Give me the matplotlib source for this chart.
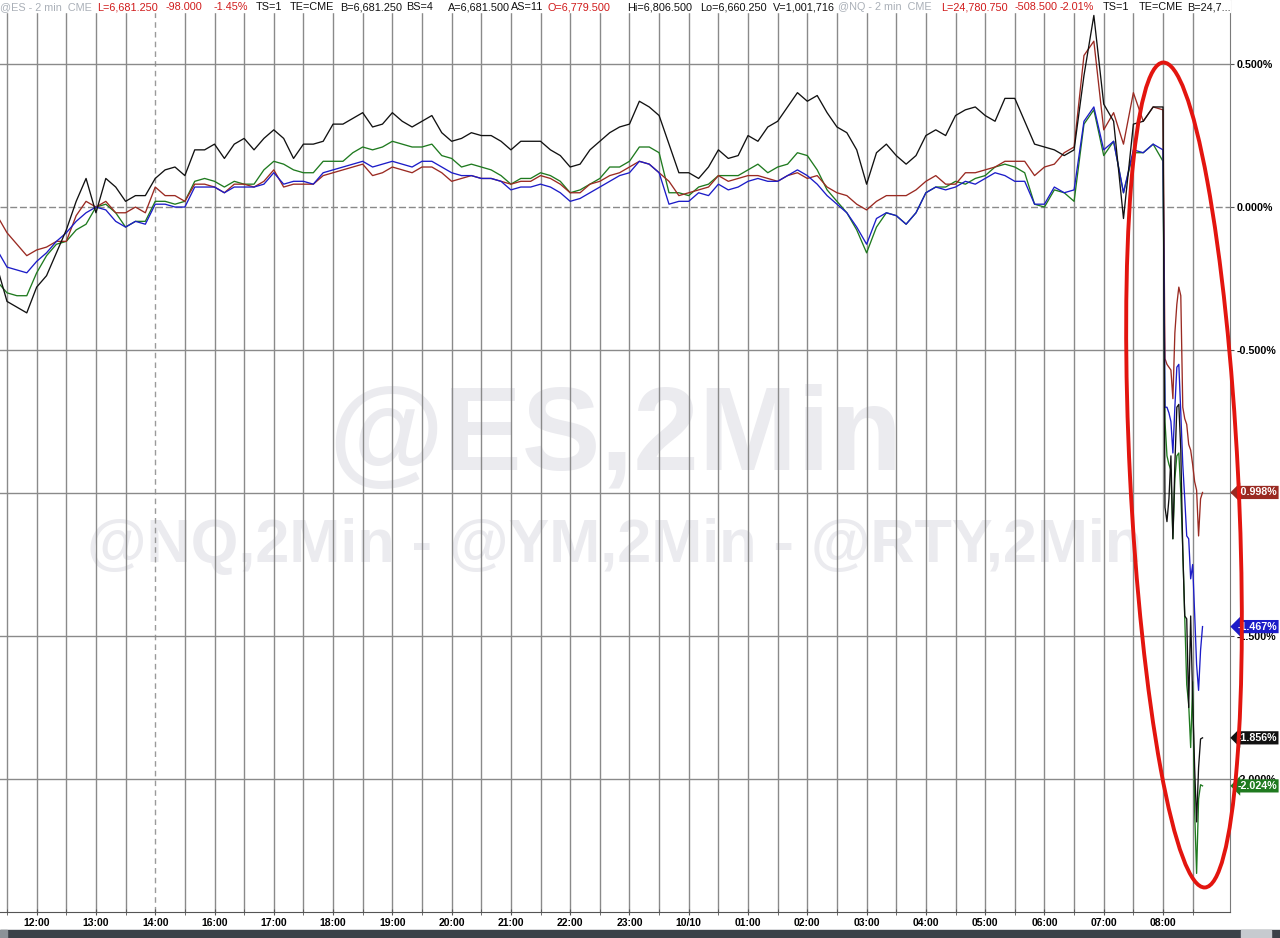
import numpy as np
import matplotlib
matplotlib.use("Agg")
import matplotlib.pyplot as plt
from matplotlib.patches import Ellipse, Rectangle
from matplotlib.transforms import IdentityTransform

plt.rcParams['font.family'] = ['Liberation Sans', 'DejaVu Sans']

# x = chart minutes counted from 12:00 (15:00 is not on the axis, 14:00 -> 16:00 is one slot)
calm_t = np.arange(-40, 1141, 10)
crash_t = np.arange(1142, 1181, 2)
t = np.concatenate([calm_t, crash_t])

hour_labels = ['12:00', '13:00', '14:00', '16:00', '17:00', '18:00', '19:00', '20:00',
               '21:00', '22:00', '23:00', '10/10', '01:00', '02:00', '03:00', '04:00',
               '05:00', '06:00', '07:00', '08:00']

# % change
black = [-0.21, -0.33, -0.35, -0.37, -0.28, -0.24, -0.16, -0.08, 0.02, 0.10,
         -0.02, 0.10, 0.07, 0.02, 0.04, 0.04, 0.10, 0.13, 0.14, 0.11,
         0.20, 0.20, 0.22, 0.17, 0.22, 0.24, 0.20, 0.24, 0.27, 0.24,
         0.17, 0.22, 0.22, 0.23, 0.29, 0.29, 0.31, 0.33, 0.28, 0.29,
         0.33, 0.30, 0.28, 0.30, 0.32, 0.26, 0.23, 0.24, 0.26, 0.25,
         0.25, 0.23, 0.20, 0.23, 0.23, 0.23, 0.20, 0.18, 0.14, 0.15,
         0.20, 0.23, 0.26, 0.28, 0.29, 0.37, 0.35, 0.32, 0.22, 0.12,
         0.12, 0.10, 0.14, 0.20, 0.17, 0.18, 0.25, 0.23, 0.28, 0.30,
         0.35, 0.40, 0.37, 0.39, 0.33, 0.28, 0.26, 0.20, 0.08, 0.19,
         0.22, 0.18, 0.15, 0.18, 0.25, 0.27, 0.25, 0.32, 0.34, 0.35,
         0.32, 0.30, 0.38, 0.38, 0.30, 0.22, 0.21, 0.20, 0.18, 0.20,
         0.46, 0.67, 0.36, 0.30, -0.04, 0.29, 0.30, 0.35, 0.35,
         -1.05, -1.10, -1.02, -0.87, -1.16, -0.90, -0.70, -0.69, -0.85, -1.20,
         -1.43, -1.44, -1.75, -1.43, -1.72, -1.96, -2.15, -1.96, -1.86, -1.856]

maroon = [-0.03, -0.09, -0.13, -0.17, -0.15, -0.14, -0.12, -0.12, -0.03, 0.02,
          0.00, 0.02, -0.02, -0.02, 0.00, -0.02, 0.07, 0.04, 0.04, 0.02,
          0.08, 0.08, 0.07, 0.05, 0.08, 0.08, 0.07, 0.09, 0.13, 0.07,
          0.08, 0.08, 0.08, 0.11, 0.12, 0.13, 0.14, 0.15, 0.11, 0.12,
          0.14, 0.13, 0.12, 0.14, 0.14, 0.12, 0.09, 0.10, 0.11, 0.10,
          0.10, 0.09, 0.08, 0.09, 0.09, 0.11, 0.10, 0.08, 0.05, 0.05,
          0.08, 0.09, 0.11, 0.12, 0.14, 0.16, 0.15, 0.12, 0.09, 0.04,
          0.05, 0.06, 0.07, 0.11, 0.09, 0.10, 0.11, 0.11, 0.10, 0.09,
          0.11, 0.12, 0.10, 0.11, 0.07, 0.05, 0.04, 0.01, -0.01, 0.02,
          0.04, 0.04, 0.04, 0.06, 0.09, 0.11, 0.08, 0.08, 0.12, 0.12,
          0.13, 0.14, 0.16, 0.16, 0.16, 0.11, 0.14, 0.15, 0.19, 0.21,
          0.53, 0.58, 0.27, 0.33, 0.22, 0.40, 0.30, 0.35, 0.34,
          -0.53, -0.55, -0.56, -0.57, -0.67, -0.44, -0.34, -0.28, -0.31, -0.70,
          -0.74, -0.76, -0.83, -0.85, -0.90, -0.96, -0.99, -1.15, -1.02, -0.998]

blue = [-0.15, -0.21, -0.22, -0.23, -0.19, -0.16, -0.12, -0.09, -0.05, -0.02,
        0.00, -0.01, -0.05, -0.07, -0.05, -0.06, 0.01, 0.01, 0.00, 0.00,
        0.07, 0.07, 0.07, 0.05, 0.07, 0.07, 0.07, 0.08, 0.12, 0.08,
        0.09, 0.09, 0.08, 0.12, 0.13, 0.14, 0.15, 0.16, 0.14, 0.15,
        0.16, 0.15, 0.14, 0.16, 0.16, 0.14, 0.12, 0.11, 0.11, 0.10,
        0.10, 0.09, 0.06, 0.07, 0.07, 0.08, 0.07, 0.05, 0.02, 0.03,
        0.05, 0.07, 0.09, 0.11, 0.12, 0.16, 0.15, 0.12, 0.01, 0.02,
        0.02, 0.05, 0.04, 0.08, 0.06, 0.07, 0.09, 0.10, 0.09, 0.09,
        0.11, 0.13, 0.11, 0.08, 0.04, 0.01, -0.02, -0.07, -0.13, -0.04,
        -0.02, -0.03, -0.06, -0.02, 0.05, 0.07, 0.06, 0.07, 0.09, 0.08,
        0.10, 0.12, 0.11, 0.09, 0.09, 0.01, 0.01, 0.07, 0.05, 0.06,
        0.30, 0.35, 0.20, 0.23, 0.05, 0.20, 0.19, 0.22, 0.20,
        -0.70, -0.70, -0.72, -0.75, -0.86, -0.70, -0.56, -0.55, -0.72, -0.90,
        -1.02, -1.15, -1.16, -1.30, -1.25, -1.42, -1.60, -1.69, -1.55, -1.467]

green = [-0.26, -0.30, -0.31, -0.31, -0.23, -0.17, -0.13, -0.12, -0.08, -0.06,
         0.00, 0.01, -0.02, -0.07, -0.05, -0.05, 0.02, 0.02, 0.01, 0.02,
         0.09, 0.10, 0.09, 0.07, 0.09, 0.08, 0.08, 0.13, 0.16, 0.15,
         0.13, 0.12, 0.12, 0.16, 0.16, 0.16, 0.19, 0.21, 0.20, 0.21,
         0.23, 0.22, 0.21, 0.21, 0.22, 0.18, 0.17, 0.14, 0.15, 0.14,
         0.13, 0.11, 0.08, 0.10, 0.10, 0.12, 0.11, 0.09, 0.05, 0.06,
         0.08, 0.10, 0.14, 0.14, 0.16, 0.21, 0.21, 0.19, 0.05, 0.05,
         0.04, 0.07, 0.08, 0.11, 0.11, 0.11, 0.13, 0.15, 0.12, 0.14,
         0.15, 0.19, 0.18, 0.13, 0.06, 0.02, -0.02, -0.08, -0.16, -0.07,
         -0.02, -0.03, -0.06, -0.02, 0.05, 0.07, 0.07, 0.09, 0.08, 0.10,
         0.11, 0.14, 0.15, 0.14, 0.12, 0.01, 0.00, 0.06, 0.05, 0.02,
         0.29, 0.34, 0.18, 0.23, 0.05, 0.19, 0.19, 0.22, 0.16,
         -0.75, -0.87, -0.90, -0.92, -1.16, -0.95, -0.87, -0.86, -1.00, -1.20,
         -1.43, -1.67, -1.74, -1.89, -1.66, -2.11, -2.33, -2.07, -2.02, -2.024]

series = [(green, '#1f7a1f'), (maroon, '#9a2a22'), (blue, '#1c1cc8'), (black, '#111111')]
yticks = [0.5, 0.0, -0.5, -1.0, -1.5, -2.0]

W, H = 1280, 938
fig = plt.figure(figsize=(W / 100, H / 100), dpi=100)
ax = fig.add_axes([0, 26 / H, 1230 / W, 912 / H])
ax.set_xlim(-37.1, 1207.8)
ax.set_ylim(-2.465, 0.724)

# grid: every half hour, dashed at the session break
grid_c = '#8a8a8a'
for g in np.arange(-30, 1171, 30):
    if g == 120:
        ax.axvline(g, color='#9a9a9a', lw=1.0, ls=(0, (4, 3)), zorder=1)
    else:
        ax.axvline(g, color=grid_c, lw=1.0, zorder=1)
for yv in yticks:
    ax.axhline(yv, color=grid_c, lw=1.0, ls=(0, (5, 2)) if yv == 0 else '-', zorder=1)

for vals, c in series:
    ax.plot(t, vals, color=c, lw=0.95, zorder=3)

# watermarks
wm = '#ebebef'
ax.text(615 / W, 1 - 470 / H, '@ES,2Min', transform=fig.transFigure, ha='center',
        va='baseline', fontsize=85, fontweight='bold', color=wm, zorder=0.5)
ax.text(615 / W, 1 - 562 / H, '@NQ,2Min - @YM,2Min - @RTY,2Min', transform=fig.transFigure,
        ha='center', va='baseline', fontsize=44, fontweight='bold', color=wm, zorder=0.5)

# axes
for s in ['left', 'top']:
    ax.spines[s].set_visible(False)
ax.spines['right'].set_color('#7a7a7a')
ax.spines['bottom'].set_color('#555555')
ax.set_xticks(np.arange(0, 1141, 60))
ax.set_xticklabels(hour_labels)
ax.set_xticks(np.arange(-30, 1171, 60), minor=True)
ax.tick_params(axis='x', which='both', direction='inout', length=5, color='#555555',
               labelsize=7.5, pad=1.5)
for lb in ax.get_xticklabels():
    lb.set_fontweight('bold')
ax.yaxis.tick_right()
ax.set_yticks(yticks)
ax.set_yticklabels(['%.3f%%' % v for v in yticks])
ax.tick_params(axis='y', direction='out', length=3, color='#555555', labelsize=7.7, pad=2)
for lb in ax.get_yticklabels():
    lb.set_fontweight('bold')

# last-value badges
for vals, c in series:
    v = vals[-1]
    ax.text(1.006, v, '%.3f%%' % v, transform=ax.get_yaxis_transform(), ha='left',
            va='center', color='white', fontsize=7.7, fontweight='bold', clip_on=False,
            bbox=dict(boxstyle='larrow,pad=0.15', fc=c, ec='none'), zorder=6)

# header strip
fig.add_artist(Rectangle((0, H - 12), 1230, 12, transform=IdentityTransform(),
                         color='white', zorder=4))
gray, red, blk = '#aab0b8', '#d01a1a', '#111111'
header = [(0, '@ES - 2 min  CME', gray), (97, 'L=6,681.250', red), (166, '-98.000', red),
          (214, '-1.45%', red), (256, 'TS=1', blk), (290, 'TE=CME', blk),
          (340, 'B=6,681.250', blk), (406, 'BS=4', blk), (448, 'A=6,681.500', blk),
          (511, 'AS=11', blk), (548, 'O=6,779.500', red), (627, 'Hi=6,806.500', blk),
          (700, 'Lo=6,660.250', blk), (773, 'V=1,001,716', blk),
          (838, '@NQ - 2 min  CME', gray), (941, 'L=24,780.750', red),
          (1015, '-508.500', red), (1060, '-2.01%', red), (1103, 'TS=1', blk),
          (1139, 'TE=CME', blk), (1187, 'B=24,7...', blk)]
for x, s, c in header:
    fig.text(x / W, 1 - 7 / H, s, ha='left', va='center', fontsize=7.8, color=c, zorder=5)

# red ring
fig.add_artist(Ellipse((1184, H - 475), 108, 826, angle=2.9, transform=IdentityTransform(),
                       fill=False, ec='#e3150f', lw=2.8, zorder=10))

# scroll bar at the bottom
fig.add_artist(Rectangle((0, 0), W, 8, transform=IdentityTransform(), color='#3b4148', zorder=4))
fig.add_artist(Rectangle((1241, 0), 30, 8, transform=IdentityTransform(), color='#c6cacf', zorder=5))
fig.add_artist(Rectangle((0, 0), 7, 8, transform=IdentityTransform(), color='#8c9298', zorder=5))

fig.savefig('out.png', dpi=100)
